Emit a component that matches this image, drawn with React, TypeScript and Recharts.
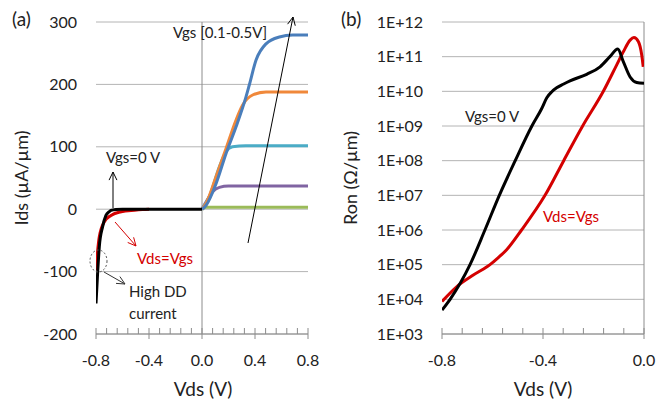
import { LineChart, Line, XAxis, YAxis, CartesianGrid, ReferenceLine } from "recharts";

const FONT = "Lato, 'Open Sans', sans-serif";
const GRID = "#b4b4b4";
const AXIS = "#8c8c8c";
const TXT = "#222";

// ---- panel (a): Ids vs Vds ----
const idsTicks = [-200, -100, 0, 100, 200, 300];
const vdsTicksA = [-0.8, -0.72, -0.64, -0.56, -0.48, -0.4, -0.32, -0.24, -0.16, -0.08, 0, 0.08, 0.16, 0.24, 0.32, 0.4, 0.48, 0.56, 0.64, 0.72, 0.8];
const vdsMajorA = [-0.8, -0.4, 0, 0.4, 0.8];

const idsVgs0 = [
  { v: -0.8, i: -151 }, { v: -0.788, i: -103 }, { v: -0.775, i: -60 }, { v: -0.75, i: -28 },
  { v: -0.725, i: -10 }, { v: -0.7, i: -4 }, { v: -0.687, i: -2 }, { v: -0.65, i: -0.5 },
  { v: -0.6, i: 0 }, { v: 0, i: 0 },
];
const idsVdsEqVgs = [
  { v: -0.8, i: -98 }, { v: -0.79, i: -72 }, { v: -0.775, i: -44 }, { v: -0.737, i: -20 },
  { v: -0.687, i: -10 }, { v: -0.61, i: -4 }, { v: -0.51, i: -1.5 }, { v: -0.45, i: -0.5 }, { v: -0.4, i: 0 },
];
const idsVgs01 = [{ v: 0, i: 0 }, { v: 0.03, i: 3 }, { v: 0.1, i: 3 }, { v: 0.8, i: 3 }];
const idsVgs02 = [
  { v: 0, i: 0 }, { v: 0.04, i: 15 }, { v: 0.08, i: 28 }, { v: 0.131, i: 35 }, { v: 0.2, i: 37 }, { v: 0.8, i: 37 },
];
const idsVgs03 = [
  { v: 0, i: 0 }, { v: 0.055, i: 20 }, { v: 0.131, i: 68 }, { v: 0.181, i: 92 }, { v: 0.231, i: 100 },
  { v: 0.33, i: 101.5 }, { v: 0.8, i: 101.5 },
];
const idsVgs04 = [
  { v: 0, i: 0 }, { v: 0.03, i: 9 }, { v: 0.106, i: 52 }, { v: 0.181, i: 97 }, { v: 0.257, i: 143 },
  { v: 0.307, i: 167 }, { v: 0.382, i: 183 }, { v: 0.483, i: 188 }, { v: 0.8, i: 188 },
];
const idsVgs05 = [
  { v: 0, i: 0 }, { v: 0.03, i: 6 }, { v: 0.106, i: 41 }, { v: 0.181, i: 89 }, { v: 0.257, i: 132 },
  { v: 0.332, i: 180 }, { v: 0.357, i: 199 }, { v: 0.408, i: 239 }, { v: 0.483, i: 265 },
  { v: 0.584, i: 276 }, { v: 0.684, i: 279 }, { v: 0.8, i: 279 },
];

// ---- panel (b): Ron vs Vds (log) ----
const ronTicks = [1e3, 1e4, 1e5, 1e6, 1e7, 1e8, 1e9, 1e10, 1e11, 1e12];
const vdsTicksB = [-0.8, -0.72, -0.64, -0.56, -0.48, -0.4, -0.32, -0.24, -0.16, -0.08, 0];
const vdsMajorB = [-0.8, -0.4, 0];

const ronVgs0 = [
  { v: -0.8, r: 4.9e3 }, { v: -0.768, r: 1.0e4 }, { v: -0.689, r: 1.0e5 }, { v: -0.63, r: 1.0e6 },
  { v: -0.573, r: 1.0e7 }, { v: -0.51, r: 1.0e8 }, { v: -0.444, r: 1.0e9 }, { v: -0.405, r: 3.2e9 },
  { v: -0.385, r: 6.5e9 }, { v: -0.366, r: 9.6e9 }, { v: -0.346, r: 1.26e10 }, { v: -0.32, r: 1.6e10 },
  { v: -0.293, r: 2.0e10 }, { v: -0.227, r: 3.1e10 }, { v: -0.174, r: 5.1e10 }, { v: -0.135, r: 1.0e11 },
  { v: -0.104, r: 1.66e11 }, { v: -0.082, r: 7.2e10 }, { v: -0.055, r: 2.6e10 }, { v: -0.029, r: 1.8e10 },
  { v: 0, r: 1.7e10 },
];
const ronVdsEqVgs = [
  { v: -0.8, r: 8.7e3 }, { v: -0.742, r: 2.3e4 }, { v: -0.676, r: 5.0e4 }, { v: -0.61, r: 1.0e5 },
  { v: -0.577, r: 1.6e5 }, { v: -0.544, r: 2.7e5 }, { v: -0.485, r: 1.0e6 }, { v: -0.392, r: 1.0e7 },
  { v: -0.318, r: 1.0e8 }, { v: -0.243, r: 1.0e9 }, { v: -0.161, r: 1.0e10 }, { v: -0.108, r: 5.8e10 },
  { v: -0.082, r: 1.38e11 }, { v: -0.055, r: 3.0e11 }, { v: -0.04, r: 3.55e11 }, { v: -0.022, r: 2.7e11 },
  { v: -0.009, r: 1.12e11 }, { v: -0.003, r: 5.1e10 },
];

function makeTick(majors: number[]) {
  return (props: any) => {
    const { x, y, payload } = props;
    const major = majors.some((m) => Math.abs(m - payload.value) < 1e-6);
    return (
      <g>
        <line x1={x} x2={x} y1={y - 6} y2={major ? y + 5 : y} stroke={AXIS} />
        {major && (
          <text x={x} y={y + 32} textAnchor="middle" fontSize={16} fill={TXT} fontFamily={FONT}>
            {payload.value.toFixed(1)}
          </text>
        )}
      </g>
    );
  };
}

function Arrow({ x1, y1, x2, y2, color, w = 1.3 }: any) {
  const a = Math.atan2(y2 - y1, x2 - x1);
  const L = 9;
  const s = 0.45;
  return (
    <g stroke={color} strokeWidth={w} fill="none">
      <line x1={x1} y1={y1} x2={x2} y2={y2} />
      <polyline
        points={`${x2 - L * Math.cos(a - s)},${y2 - L * Math.sin(a - s)} ${x2},${y2} ${x2 - L * Math.cos(a + s)},${y2 - L * Math.sin(a + s)}`}
      />
    </g>
  );
}

const tickStyle = { fontSize: 16, fill: TXT, fontFamily: FONT };

export default function App() {
  return (
    <div style={{ position: "absolute", left: 0, top: 0, width: 658, height: 410, background: "#fff" }}>
      <div style={{ position: "absolute", left: 0, top: 0 }}>
        <LineChart width={330} height={410} margin={{ top: 22, right: 22, bottom: 26, left: 0 }}>
          <CartesianGrid vertical={false} stroke={GRID} />
          <XAxis
            type="number"
            dataKey="v"
            domain={[-0.8, 0.8]}
            ticks={vdsTicksA}
            interval={0}
            tickSize={0}
            tickMargin={0}
            height={50}
            stroke={AXIS}
            tick={makeTick(vdsMajorA)}
            allowDataOverflow
          />
          <YAxis
            type="number"
            domain={[-200, 300]}
            ticks={idsTicks}
            width={96}
            axisLine={false}
            tickLine={false}
            tickSize={0}
            tickMargin={19}
            tick={tickStyle}
            allowDataOverflow
          />
          <ReferenceLine x={0} stroke={AXIS} />
          <Line data={idsVgs01} dataKey="i" stroke="#9bbb59" strokeWidth={3} dot={false} type="monotone" isAnimationActive={false} />
          <Line data={idsVgs02} dataKey="i" stroke="#8064a2" strokeWidth={3} dot={false} type="monotone" isAnimationActive={false} />
          <Line data={idsVgs03} dataKey="i" stroke="#4bacc6" strokeWidth={3} dot={false} type="monotone" isAnimationActive={false} />
          <Line data={idsVgs04} dataKey="i" stroke="#f0883a" strokeWidth={3} dot={false} type="monotone" isAnimationActive={false} />
          <Line data={idsVgs05} dataKey="i" stroke="#4a7ebb" strokeWidth={3} dot={false} type="monotone" isAnimationActive={false} />
          <Line data={idsVdsEqVgs} dataKey="i" stroke="#d40000" strokeWidth={3} dot={false} type="monotone" isAnimationActive={false} />
          <Line data={idsVgs0} dataKey="i" stroke="#000" strokeWidth={3} dot={false} type="monotone" isAnimationActive={false} />
        </LineChart>
      </div>
      <div style={{ position: "absolute", left: 330, top: 0 }}>
        <LineChart width={328} height={410} margin={{ top: 22, right: 14, bottom: 26, left: 0 }}>
          <CartesianGrid vertical={false} stroke={GRID} />
          <XAxis
            type="number"
            dataKey="v"
            domain={[-0.8, 0]}
            ticks={vdsTicksB}
            interval={0}
            tickSize={0}
            tickMargin={0}
            height={50}
            stroke={AXIS}
            tick={makeTick(vdsMajorB)}
            allowDataOverflow
          />
          <YAxis
            type="number"
            scale="log"
            domain={[1e3, 1e12]}
            ticks={ronTicks}
            width={112}
            axisLine={false}
            tickLine={false}
            tickSize={0}
            tickMargin={19}
            tick={tickStyle}
            tickFormatter={(v: number) => "1E+" + String(Math.round(Math.log10(v))).padStart(2, "0")}
            allowDataOverflow
          />
          <ReferenceLine x={0} stroke={AXIS} />
          <Line data={ronVdsEqVgs} dataKey="r" stroke="#d40000" strokeWidth={3} dot={false} type="monotone" isAnimationActive={false} />
          <Line data={ronVgs0} dataKey="r" stroke="#000" strokeWidth={3} dot={false} type="monotone" isAnimationActive={false} />
        </LineChart>
      </div>
      <svg width={658} height={410} style={{ position: "absolute", left: 0, top: 0, pointerEvents: "none" }} fontFamily={FONT}>
        {/* panel (a) */}
        <text x={12} y={26} fontSize={19} fill={TXT}>(a)</text>
        <text x={23} y={178} fontSize={18} fill={TXT} textAnchor="middle" transform="rotate(-90 23 178)" dominantBaseline="middle">Ids (µA/µm)</text>
        <text x={203} y={396} fontSize={19} fill={TXT} textAnchor="middle">Vds (V)</text>
        <text x={173} y={38} fontSize={15} fill={TXT}>Vgs [0.1-0.5V]</text>
        <Arrow x1={248} y1={243} x2={293} y2={17} color="#000" w={1} />
        <text x={106} y={163} fontSize={15} fill={TXT}>Vgs=0 V</text>
        <Arrow x1={113} y1={208} x2={113} y2={172} color="#000" w={1} />
        <Arrow x1={115} y1={222} x2={136} y2={246} color="#d40000" w={1} />
        <text x={137} y={264} fontSize={15} fill="#d40000">Vds=Vgs</text>
        <ellipse cx={98.5} cy={261} rx={8.5} ry={11} fill="none" stroke="#555" strokeDasharray="2 2" />
        <Arrow x1={104} y1={272} x2={125} y2={284} color="#333" w={1} />
        <text x={129} y={297} fontSize={15} fill={TXT}>High DD</text>
        <text x={129} y={319} fontSize={15} fill={TXT}>current</text>
        {/* panel (b) */}
        <text x={341} y={26} fontSize={19} fill={TXT}>(b)</text>
        <text x={352} y={178} fontSize={18} fill={TXT} textAnchor="middle" transform="rotate(-90 352 178)" dominantBaseline="middle">Ron (Ω/µm)</text>
        <text x={543} y={396} fontSize={19} fill={TXT} textAnchor="middle">Vds (V)</text>
        <text x={465} y={122} fontSize={15} fill={TXT}>Vgs=0 V</text>
        <text x={543} y={222} fontSize={15} fill="#d40000">Vds=Vgs</text>
      </svg>
    </div>
  );
}
